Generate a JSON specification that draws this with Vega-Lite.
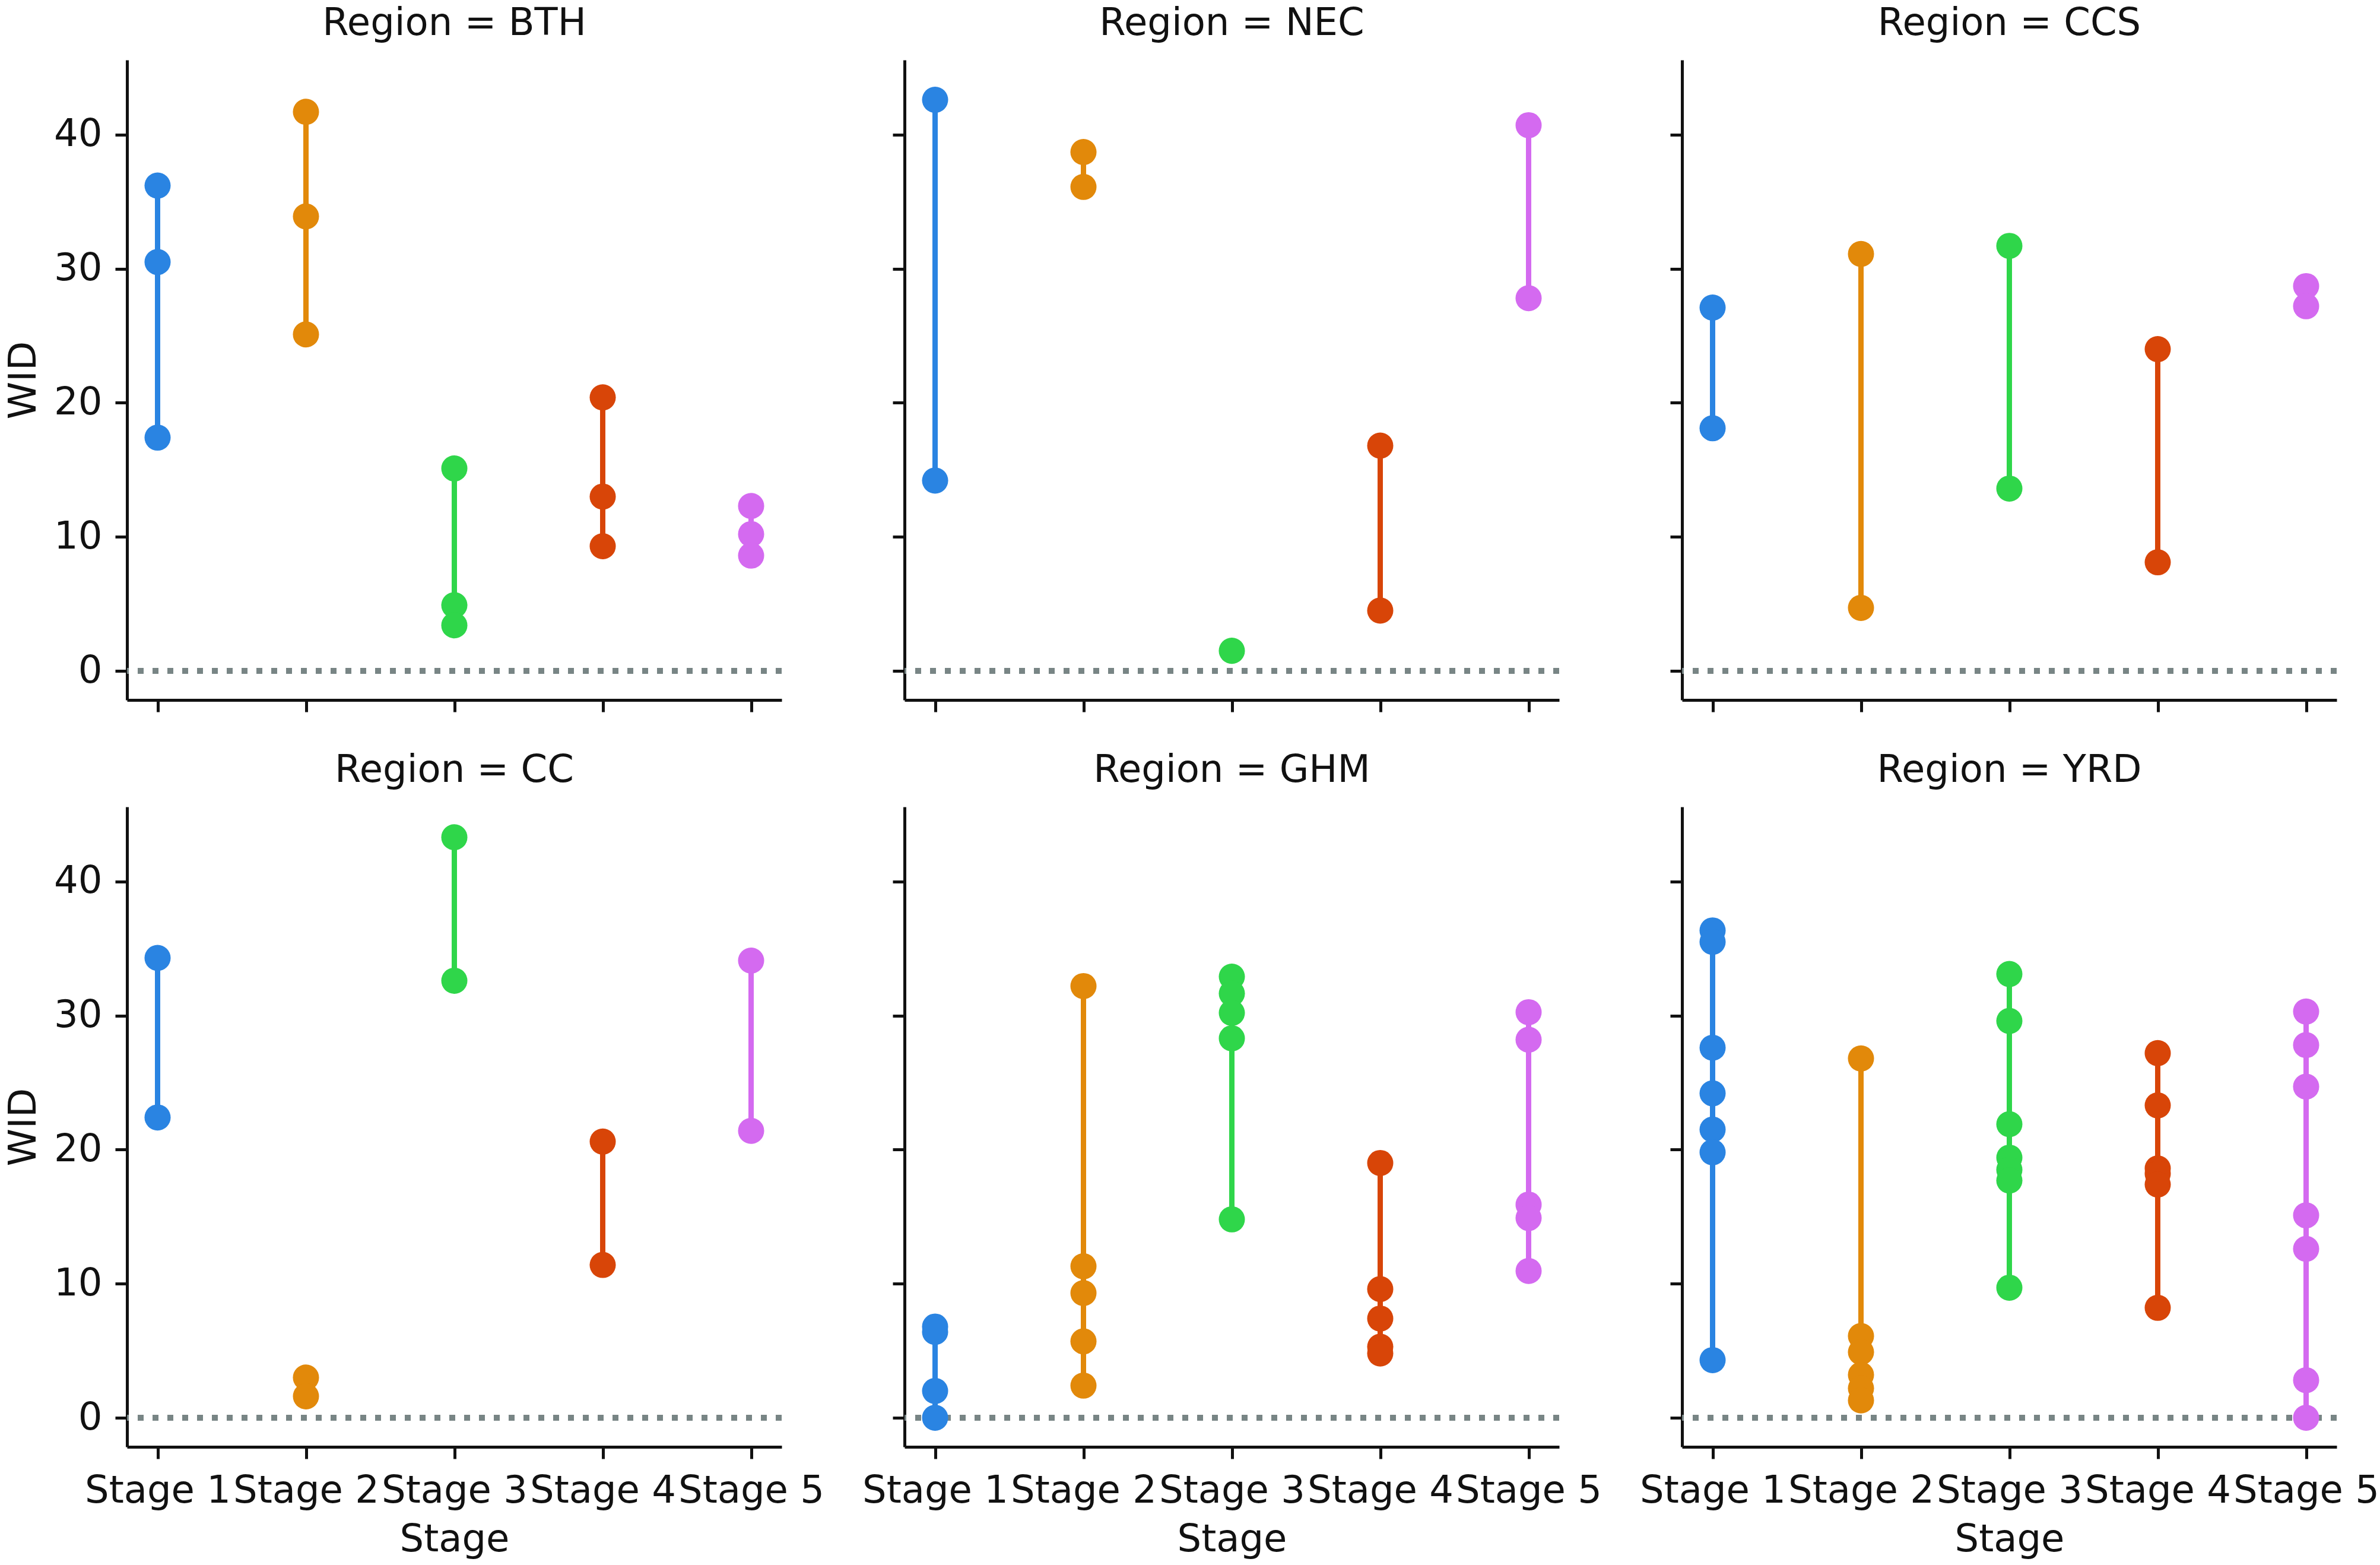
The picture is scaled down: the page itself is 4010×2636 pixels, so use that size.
{
  "$schema": "https://vega.github.io/schema/vega-lite/v6.json",
  "background": "white",
  "padding": {"left": 8, "top": 8, "right": 4, "bottom": 4},
  "datasets": {
    "wid": [
      {"Region": "BTH", "Stage": "Stage 1", "WID": 36.2},
      {"Region": "BTH", "Stage": "Stage 1", "WID": 30.5},
      {"Region": "BTH", "Stage": "Stage 1", "WID": 17.4},
      {"Region": "BTH", "Stage": "Stage 2", "WID": 41.7},
      {"Region": "BTH", "Stage": "Stage 2", "WID": 33.9},
      {"Region": "BTH", "Stage": "Stage 2", "WID": 25.1},
      {"Region": "BTH", "Stage": "Stage 3", "WID": 15.1},
      {"Region": "BTH", "Stage": "Stage 3", "WID": 4.9},
      {"Region": "BTH", "Stage": "Stage 3", "WID": 3.4},
      {"Region": "BTH", "Stage": "Stage 4", "WID": 20.4},
      {"Region": "BTH", "Stage": "Stage 4", "WID": 13.0},
      {"Region": "BTH", "Stage": "Stage 4", "WID": 9.3},
      {"Region": "BTH", "Stage": "Stage 5", "WID": 12.3},
      {"Region": "BTH", "Stage": "Stage 5", "WID": 10.2},
      {"Region": "BTH", "Stage": "Stage 5", "WID": 8.6},
      {"Region": "NEC", "Stage": "Stage 1", "WID": 42.6},
      {"Region": "NEC", "Stage": "Stage 1", "WID": 14.2},
      {"Region": "NEC", "Stage": "Stage 2", "WID": 38.7},
      {"Region": "NEC", "Stage": "Stage 2", "WID": 36.1},
      {"Region": "NEC", "Stage": "Stage 3", "WID": 1.5},
      {"Region": "NEC", "Stage": "Stage 4", "WID": 16.8},
      {"Region": "NEC", "Stage": "Stage 4", "WID": 4.5},
      {"Region": "NEC", "Stage": "Stage 5", "WID": 40.7},
      {"Region": "NEC", "Stage": "Stage 5", "WID": 27.8},
      {"Region": "CCS", "Stage": "Stage 1", "WID": 27.1},
      {"Region": "CCS", "Stage": "Stage 1", "WID": 18.1},
      {"Region": "CCS", "Stage": "Stage 2", "WID": 31.1},
      {"Region": "CCS", "Stage": "Stage 2", "WID": 4.7},
      {"Region": "CCS", "Stage": "Stage 3", "WID": 31.7},
      {"Region": "CCS", "Stage": "Stage 3", "WID": 13.6},
      {"Region": "CCS", "Stage": "Stage 4", "WID": 24.0},
      {"Region": "CCS", "Stage": "Stage 4", "WID": 8.1},
      {"Region": "CCS", "Stage": "Stage 5", "WID": 28.7},
      {"Region": "CCS", "Stage": "Stage 5", "WID": 27.2},
      {"Region": "CC", "Stage": "Stage 1", "WID": 34.3},
      {"Region": "CC", "Stage": "Stage 1", "WID": 22.4},
      {"Region": "CC", "Stage": "Stage 2", "WID": 3.0},
      {"Region": "CC", "Stage": "Stage 2", "WID": 1.6},
      {"Region": "CC", "Stage": "Stage 3", "WID": 43.3},
      {"Region": "CC", "Stage": "Stage 3", "WID": 32.6},
      {"Region": "CC", "Stage": "Stage 4", "WID": 20.6},
      {"Region": "CC", "Stage": "Stage 4", "WID": 11.4},
      {"Region": "CC", "Stage": "Stage 5", "WID": 34.1},
      {"Region": "CC", "Stage": "Stage 5", "WID": 21.4},
      {"Region": "GHM", "Stage": "Stage 1", "WID": 6.8},
      {"Region": "GHM", "Stage": "Stage 1", "WID": 6.4},
      {"Region": "GHM", "Stage": "Stage 1", "WID": 2.0},
      {"Region": "GHM", "Stage": "Stage 1", "WID": 0.0},
      {"Region": "GHM", "Stage": "Stage 2", "WID": 32.2},
      {"Region": "GHM", "Stage": "Stage 2", "WID": 11.3},
      {"Region": "GHM", "Stage": "Stage 2", "WID": 9.3},
      {"Region": "GHM", "Stage": "Stage 2", "WID": 5.7},
      {"Region": "GHM", "Stage": "Stage 2", "WID": 2.4},
      {"Region": "GHM", "Stage": "Stage 3", "WID": 32.9},
      {"Region": "GHM", "Stage": "Stage 3", "WID": 31.65},
      {"Region": "GHM", "Stage": "Stage 3", "WID": 30.2},
      {"Region": "GHM", "Stage": "Stage 3", "WID": 28.3},
      {"Region": "GHM", "Stage": "Stage 3", "WID": 14.8},
      {"Region": "GHM", "Stage": "Stage 4", "WID": 19.0},
      {"Region": "GHM", "Stage": "Stage 4", "WID": 9.6},
      {"Region": "GHM", "Stage": "Stage 4", "WID": 7.4},
      {"Region": "GHM", "Stage": "Stage 4", "WID": 5.3},
      {"Region": "GHM", "Stage": "Stage 4", "WID": 4.8},
      {"Region": "GHM", "Stage": "Stage 5", "WID": 30.25},
      {"Region": "GHM", "Stage": "Stage 5", "WID": 28.2},
      {"Region": "GHM", "Stage": "Stage 5", "WID": 15.9},
      {"Region": "GHM", "Stage": "Stage 5", "WID": 14.9},
      {"Region": "GHM", "Stage": "Stage 5", "WID": 10.95},
      {"Region": "YRD", "Stage": "Stage 1", "WID": 36.35},
      {"Region": "YRD", "Stage": "Stage 1", "WID": 35.5},
      {"Region": "YRD", "Stage": "Stage 1", "WID": 27.6},
      {"Region": "YRD", "Stage": "Stage 1", "WID": 24.2},
      {"Region": "YRD", "Stage": "Stage 1", "WID": 21.5},
      {"Region": "YRD", "Stage": "Stage 1", "WID": 19.8},
      {"Region": "YRD", "Stage": "Stage 1", "WID": 4.3},
      {"Region": "YRD", "Stage": "Stage 2", "WID": 26.8},
      {"Region": "YRD", "Stage": "Stage 2", "WID": 6.1},
      {"Region": "YRD", "Stage": "Stage 2", "WID": 4.9},
      {"Region": "YRD", "Stage": "Stage 2", "WID": 3.2},
      {"Region": "YRD", "Stage": "Stage 2", "WID": 2.2},
      {"Region": "YRD", "Stage": "Stage 2", "WID": 1.3},
      {"Region": "YRD", "Stage": "Stage 3", "WID": 33.1},
      {"Region": "YRD", "Stage": "Stage 3", "WID": 29.6},
      {"Region": "YRD", "Stage": "Stage 3", "WID": 21.9},
      {"Region": "YRD", "Stage": "Stage 3", "WID": 19.4},
      {"Region": "YRD", "Stage": "Stage 3", "WID": 18.5},
      {"Region": "YRD", "Stage": "Stage 3", "WID": 17.7},
      {"Region": "YRD", "Stage": "Stage 3", "WID": 9.7},
      {"Region": "YRD", "Stage": "Stage 4", "WID": 27.2},
      {"Region": "YRD", "Stage": "Stage 4", "WID": 23.3},
      {"Region": "YRD", "Stage": "Stage 4", "WID": 18.6},
      {"Region": "YRD", "Stage": "Stage 4", "WID": 18.2},
      {"Region": "YRD", "Stage": "Stage 4", "WID": 17.4},
      {"Region": "YRD", "Stage": "Stage 4", "WID": 8.2},
      {"Region": "YRD", "Stage": "Stage 5", "WID": 30.3},
      {"Region": "YRD", "Stage": "Stage 5", "WID": 27.8},
      {"Region": "YRD", "Stage": "Stage 5", "WID": 24.7},
      {"Region": "YRD", "Stage": "Stage 5", "WID": 15.1},
      {"Region": "YRD", "Stage": "Stage 5", "WID": 12.6},
      {"Region": "YRD", "Stage": "Stage 5", "WID": 2.8},
      {"Region": "YRD", "Stage": "Stage 5", "WID": 0.0}
    ]
  },
  "data": {"name": "wid"},
  "columns": 3,
  "spacing": {"row": 180, "column": 207},
  "bounds": "flush",
  "concat": [
    {
      "width": 1103, "height": 1078,
      "title": {"text": "Region = BTH"},
      "transform": [{"filter": "datum.Region == 'BTH'"}],
      "layer": [
        {"mark": {"type": "rule", "color": "#788585", "strokeWidth": 10, "strokeDash": [10, 15]}, "encoding": {"y": {"datum": 0, "type": "quantitative", "scale": {"domain": [-2.17, 45.57], "nice": false, "zero": false}, "axis": {"title": "WID", "values": [0, 10, 20, 30, 40]}}}},
        {"mark": {"type": "rule", "strokeWidth": 9}, "encoding": {"x": {"field": "Stage", "type": "ordinal", "scale": {"type": "point", "padding": 0.206}, "axis": {"labels": false, "title": null}}, "y": {"aggregate": "min", "field": "WID", "type": "quantitative"}, "y2": {"aggregate": "max", "field": "WID"}, "color": {"field": "Stage", "type": "nominal", "legend": null, "scale": {"domain": ["Stage 1", "Stage 2", "Stage 3", "Stage 4", "Stage 5"], "range": ["#2a84e2", "#e2890a", "#2fd64a", "#d84508", "#d46af0"]}}}},
        {"mark": {"type": "point", "shape": "circle", "filled": true, "opacity": 1, "size": 1940}, "encoding": {"x": {"field": "Stage", "type": "ordinal"}, "y": {"field": "WID", "type": "quantitative"}, "color": {"field": "Stage", "type": "nominal"}}}
      ]
    },
    {
      "width": 1103, "height": 1078,
      "title": {"text": "Region = NEC"},
      "transform": [{"filter": "datum.Region == 'NEC'"}],
      "layer": [
        {"mark": {"type": "rule", "color": "#788585", "strokeWidth": 10, "strokeDash": [10, 15]}, "encoding": {"y": {"datum": 0, "type": "quantitative", "scale": {"domain": [-2.17, 45.57], "nice": false, "zero": false}, "axis": {"title": null, "labels": false, "values": [0, 10, 20, 30, 40]}}}},
        {"mark": {"type": "rule", "strokeWidth": 9}, "encoding": {"x": {"field": "Stage", "type": "ordinal", "scale": {"type": "point", "padding": 0.206}, "axis": {"labels": false, "title": null}}, "y": {"aggregate": "min", "field": "WID", "type": "quantitative"}, "y2": {"aggregate": "max", "field": "WID"}, "color": {"field": "Stage", "type": "nominal", "legend": null, "scale": {"domain": ["Stage 1", "Stage 2", "Stage 3", "Stage 4", "Stage 5"], "range": ["#2a84e2", "#e2890a", "#2fd64a", "#d84508", "#d46af0"]}}}},
        {"mark": {"type": "point", "shape": "circle", "filled": true, "opacity": 1, "size": 1940}, "encoding": {"x": {"field": "Stage", "type": "ordinal"}, "y": {"field": "WID", "type": "quantitative"}, "color": {"field": "Stage", "type": "nominal"}}}
      ]
    },
    {
      "width": 1103, "height": 1078,
      "title": {"text": "Region = CCS"},
      "transform": [{"filter": "datum.Region == 'CCS'"}],
      "layer": [
        {"mark": {"type": "rule", "color": "#788585", "strokeWidth": 10, "strokeDash": [10, 15]}, "encoding": {"y": {"datum": 0, "type": "quantitative", "scale": {"domain": [-2.17, 45.57], "nice": false, "zero": false}, "axis": {"title": null, "labels": false, "values": [0, 10, 20, 30, 40]}}}},
        {"mark": {"type": "rule", "strokeWidth": 9}, "encoding": {"x": {"field": "Stage", "type": "ordinal", "scale": {"type": "point", "padding": 0.206}, "axis": {"labels": false, "title": null}}, "y": {"aggregate": "min", "field": "WID", "type": "quantitative"}, "y2": {"aggregate": "max", "field": "WID"}, "color": {"field": "Stage", "type": "nominal", "legend": null, "scale": {"domain": ["Stage 1", "Stage 2", "Stage 3", "Stage 4", "Stage 5"], "range": ["#2a84e2", "#e2890a", "#2fd64a", "#d84508", "#d46af0"]}}}},
        {"mark": {"type": "point", "shape": "circle", "filled": true, "opacity": 1, "size": 1940}, "encoding": {"x": {"field": "Stage", "type": "ordinal"}, "y": {"field": "WID", "type": "quantitative"}, "color": {"field": "Stage", "type": "nominal"}}}
      ]
    },
    {
      "width": 1103, "height": 1078,
      "title": {"text": "Region = CC"},
      "transform": [{"filter": "datum.Region == 'CC'"}],
      "layer": [
        {"mark": {"type": "rule", "color": "#788585", "strokeWidth": 10, "strokeDash": [10, 15]}, "encoding": {"y": {"datum": 0, "type": "quantitative", "scale": {"domain": [-2.17, 45.57], "nice": false, "zero": false}, "axis": {"title": "WID", "values": [0, 10, 20, 30, 40]}}}},
        {"mark": {"type": "rule", "strokeWidth": 9}, "encoding": {"x": {"field": "Stage", "type": "ordinal", "scale": {"type": "point", "padding": 0.206}, "axis": {"title": "Stage"}}, "y": {"aggregate": "min", "field": "WID", "type": "quantitative"}, "y2": {"aggregate": "max", "field": "WID"}, "color": {"field": "Stage", "type": "nominal", "legend": null, "scale": {"domain": ["Stage 1", "Stage 2", "Stage 3", "Stage 4", "Stage 5"], "range": ["#2a84e2", "#e2890a", "#2fd64a", "#d84508", "#d46af0"]}}}},
        {"mark": {"type": "point", "shape": "circle", "filled": true, "opacity": 1, "size": 1940}, "encoding": {"x": {"field": "Stage", "type": "ordinal"}, "y": {"field": "WID", "type": "quantitative"}, "color": {"field": "Stage", "type": "nominal"}}}
      ]
    },
    {
      "width": 1103, "height": 1078,
      "title": {"text": "Region = GHM"},
      "transform": [{"filter": "datum.Region == 'GHM'"}],
      "layer": [
        {"mark": {"type": "rule", "color": "#788585", "strokeWidth": 10, "strokeDash": [10, 15]}, "encoding": {"y": {"datum": 0, "type": "quantitative", "scale": {"domain": [-2.17, 45.57], "nice": false, "zero": false}, "axis": {"title": null, "labels": false, "values": [0, 10, 20, 30, 40]}}}},
        {"mark": {"type": "rule", "strokeWidth": 9}, "encoding": {"x": {"field": "Stage", "type": "ordinal", "scale": {"type": "point", "padding": 0.206}, "axis": {"title": "Stage"}}, "y": {"aggregate": "min", "field": "WID", "type": "quantitative"}, "y2": {"aggregate": "max", "field": "WID"}, "color": {"field": "Stage", "type": "nominal", "legend": null, "scale": {"domain": ["Stage 1", "Stage 2", "Stage 3", "Stage 4", "Stage 5"], "range": ["#2a84e2", "#e2890a", "#2fd64a", "#d84508", "#d46af0"]}}}},
        {"mark": {"type": "point", "shape": "circle", "filled": true, "opacity": 1, "size": 1940}, "encoding": {"x": {"field": "Stage", "type": "ordinal"}, "y": {"field": "WID", "type": "quantitative"}, "color": {"field": "Stage", "type": "nominal"}}}
      ]
    },
    {
      "width": 1103, "height": 1078,
      "title": {"text": "Region = YRD"},
      "transform": [{"filter": "datum.Region == 'YRD'"}],
      "layer": [
        {"mark": {"type": "rule", "color": "#788585", "strokeWidth": 10, "strokeDash": [10, 15]}, "encoding": {"y": {"datum": 0, "type": "quantitative", "scale": {"domain": [-2.17, 45.57], "nice": false, "zero": false}, "axis": {"title": null, "labels": false, "values": [0, 10, 20, 30, 40]}}}},
        {"mark": {"type": "rule", "strokeWidth": 9}, "encoding": {"x": {"field": "Stage", "type": "ordinal", "scale": {"type": "point", "padding": 0.206}, "axis": {"title": "Stage"}}, "y": {"aggregate": "min", "field": "WID", "type": "quantitative"}, "y2": {"aggregate": "max", "field": "WID"}, "color": {"field": "Stage", "type": "nominal", "legend": null, "scale": {"domain": ["Stage 1", "Stage 2", "Stage 3", "Stage 4", "Stage 5"], "range": ["#2a84e2", "#e2890a", "#2fd64a", "#d84508", "#d46af0"]}}}},
        {"mark": {"type": "point", "shape": "circle", "filled": true, "opacity": 1, "size": 1940}, "encoding": {"x": {"field": "Stage", "type": "ordinal"}, "y": {"field": "WID", "type": "quantitative"}, "color": {"field": "Stage", "type": "nominal"}}}
      ]
    }
  ],
  "config": {
    "view": {"stroke": null},
    "font": "DejaVu Sans",
    "axis": {
      "grid": false,
      "domainColor": "#111111",
      "domainWidth": 5,
      "tickColor": "#111111",
      "tickWidth": 5,
      "tickSize": 20,
      "labelFont": "DejaVu Sans",
      "labelFontSize": 64,
      "labelColor": "#111111",
      "labelPadding": 22,
      "labelAngle": 0,
      "labelOverlap": false,
      "labelBound": false,
      "labelLimit": 0,
      "titleFont": "DejaVu Sans",
      "titleFontSize": 64,
      "titleFontWeight": "normal",
      "titleColor": "#111111",
      "titlePadding": 18
    },
    "title": {
      "font": "DejaVu Sans",
      "fontSize": 64,
      "fontWeight": "normal",
      "color": "#111111",
      "anchor": "middle",
      "frame": "group",
      "baseline": "alphabetic",
      "offset": 29
    }
  }
}
